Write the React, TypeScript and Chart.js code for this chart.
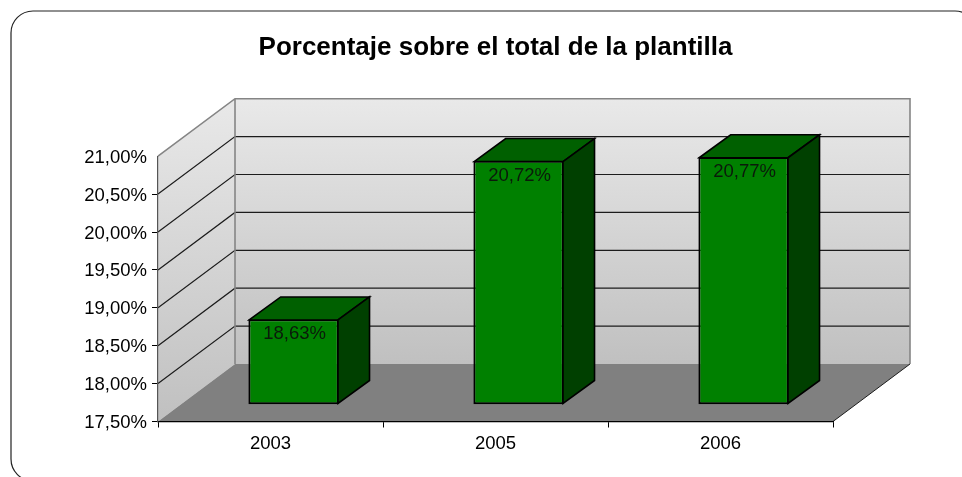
import React, { useEffect, useRef } from "react";
import { Chart, registerables } from "chart.js";

Chart.register(...registerables);

const categories = ["2003", "2005", "2006"];
const seriesValues = [18.63, 20.72, 20.77];
const valueLabels = ["18,63%", "20,72%", "20,77%"];
const axisMin = 17.5;
const axisMax = 21;
const axisStep = 0.5;

const FONT = '"Liberation Sans", Arial, sans-serif';
const WALL_DX = 77;
const WALL_DY = -57.5;
const BAR_SHIFT_X = 23.1;
const BAR_SHIFT_Y = -16.7;
const BAR_DX = 31.5;
const BAR_DY = -23;

const fmt = (v: number) => v.toFixed(2).replace(".", ",") + "%";

const poly = (ctx: CanvasRenderingContext2D, pts: number[][]) => {
  ctx.beginPath();
  pts.forEach((p, i) => (i ? ctx.lineTo(p[0], p[1]) : ctx.moveTo(p[0], p[1])));
  ctx.closePath();
};

const scene3d = {
  id: "scene3d",
  beforeDraw(chart: any) {
    const { ctx, chartArea: a, scales } = chart;
    const l = a.left, r = a.right, t = a.top, b = a.bottom;
    const bl = l + WALL_DX, br = r + WALL_DX, bt = t + WALL_DY, bb = b + WALL_DY;
    ctx.save();

    // outer rounded frame
    ctx.beginPath();
    ctx.roundRect(11, 11, 966, 470, 22);
    ctx.strokeStyle = "#222222";
    ctx.lineWidth = 1.2;
    ctx.stroke();

    // side wall
    let g = ctx.createLinearGradient(0, bt, 0, b);
    g.addColorStop(0, "#e9e9e9");
    g.addColorStop(1, "#c0c0c0");
    poly(ctx, [[l, t], [bl, bt], [bl, bb], [l, b]]);
    ctx.fillStyle = g;
    ctx.fill();

    // back wall
    g = ctx.createLinearGradient(0, bt, 0, bb);
    g.addColorStop(0, "#e9e9e9");
    g.addColorStop(1, "#c0c0c0");
    poly(ctx, [[bl, bt], [br, bt], [br, bb], [bl, bb]]);
    ctx.fillStyle = g;
    ctx.fill();

    // floor
    poly(ctx, [[l, b], [bl, bb], [br, bb], [r, b]]);
    ctx.fillStyle = "#808080";
    ctx.fill();

    // gridlines
    ctx.strokeStyle = "#1c1c1c";
    ctx.lineWidth = 1.2;
    scales.y.ticks.forEach((tick: any) => {
      if (tick.value <= axisMin || tick.value >= axisMax) return;
      const y = scales.y.getPixelForValue(tick.value);
      ctx.beginPath();
      ctx.moveTo(l, y);
      ctx.lineTo(bl, y + WALL_DY);
      ctx.lineTo(br, y + WALL_DY);
      ctx.stroke();
    });

    // wall outlines
    ctx.strokeStyle = "#858585";
    ctx.lineWidth = 1.6;
    ctx.beginPath();
    ctx.moveTo(l, t);
    ctx.lineTo(bl, bt);
    ctx.lineTo(br, bt);
    ctx.lineTo(br, bb);
    ctx.moveTo(bl, bt);
    ctx.lineTo(bl, bb);
    ctx.stroke();

    // floor front-right edge
    ctx.strokeStyle = "#1c1c1c";
    ctx.lineWidth = 1;
    ctx.beginPath();
    ctx.moveTo(r, b);
    ctx.lineTo(br, bb);
    ctx.stroke();
    ctx.restore();
  },
  beforeDatasetsDraw(chart: any) {
    chart.ctx.save();
    chart.ctx.translate(BAR_SHIFT_X, BAR_SHIFT_Y);
  },
  afterDatasetsDraw(chart: any) {
    const { ctx } = chart;
    const bars = chart.getDatasetMeta(0).data;
    ctx.strokeStyle = "#000000";
    ctx.lineWidth = 1.6;
    ctx.lineJoin = "miter";
    bars.forEach((bar: any, i: number) => {
      const { x, y, base, width } = bar.getProps(["x", "y", "base", "width"], true);
      const x0 = x - width / 2 + 0.8;
      const x1 = x + width / 2 - 0.8;
      const y0 = y + 0.8;
      const y1 = base - 0.8;
      poly(ctx, [[x0, y0], [x0 + BAR_DX, y0 + BAR_DY], [x1 + BAR_DX, y0 + BAR_DY], [x1, y0]]);
      ctx.fillStyle = "#006000";
      ctx.fill();
      ctx.stroke();
      poly(ctx, [[x1, y0], [x1 + BAR_DX, y0 + BAR_DY], [x1 + BAR_DX, y1 + BAR_DY], [x1, y1]]);
      ctx.fillStyle = "#004000";
      ctx.fill();
      ctx.stroke();
      ctx.fillStyle = "#0a1a0a";
      ctx.font = `18.5px ${FONT}`;
      ctx.textAlign = "center";
      ctx.textBaseline = "middle";
      ctx.fillText(valueLabels[i], x + 1, y + 15);
    });
    ctx.restore();
  },
};

export default function App() {
  const ref = useRef<HTMLCanvasElement>(null);
  useEffect(() => {
    const chart = new Chart(ref.current as HTMLCanvasElement, {
      type: "bar",
      data: {
        labels: categories,
        datasets: [
          {
            data: seriesValues,
            base: axisMin,
            backgroundColor: "#008000",
            borderColor: "#000000",
            borderWidth: 2,
            borderSkipped: false,
            barPercentage: 0.402,
            categoryPercentage: 1,
            clip: false,
          } as any,
        ],
      },
      options: {
        responsive: false,
        animation: false,
        devicePixelRatio: 1,
        layout: { padding: { left: 0, right: 129, top: 0, bottom: 0 } },
        plugins: {
          legend: { display: false },
          tooltip: { enabled: false },
          title: {
            display: true,
            text: "Porcentaje sobre el total de la plantilla",
            color: "#000000",
            fullSize: false,
            font: { family: FONT, size: 26, weight: "bold", lineHeight: 1.2 },
            padding: { top: 32, bottom: 93 },
          } as any,
        },
        scales: {
          x: {
            grid: {
              drawOnChartArea: false,
              drawTicks: true,
              tickLength: 6,
              tickColor: "#000000",
              color: "#000000",
            },
            border: { color: "#000000", width: 1.2 },
            ticks: {
              color: "#000000",
              padding: 5,
              autoSkip: false,
              maxRotation: 0,
              font: { family: FONT, size: 18.5 },
            },
            afterFit: (s: any) => {
              s.height = 55.5;
            },
          },
          y: {
            min: axisMin,
            max: axisMax,
            grid: {
              drawOnChartArea: false,
              tickLength: 6,
              tickColor: (c: any) => (c.tick && c.tick.value >= axisMax ? "rgba(0,0,0,0)" : "#000000"),
            },
            border: { color: "#555555", width: 1.2 },
            ticks: {
              stepSize: axisStep,
              color: "#000000",
              padding: 5,
              labelOffset: 1.5,
              font: { family: FONT, size: 18.5 },
              callback: (v: any) => fmt(Number(v)),
            },
            afterFit: (s: any) => {
              s.width = 158;
            },
          },
        },
      },
      plugins: [scene3d as any],
    });
    return () => chart.destroy();
  }, []);
  return (
    <div style={{ position: "fixed", left: 0, top: 0, width: 962, height: 477, overflow: "hidden", background: "#ffffff" }}>
      <canvas ref={ref} width={962} height={477} style={{ display: "block" }} />
    </div>
  );
}
